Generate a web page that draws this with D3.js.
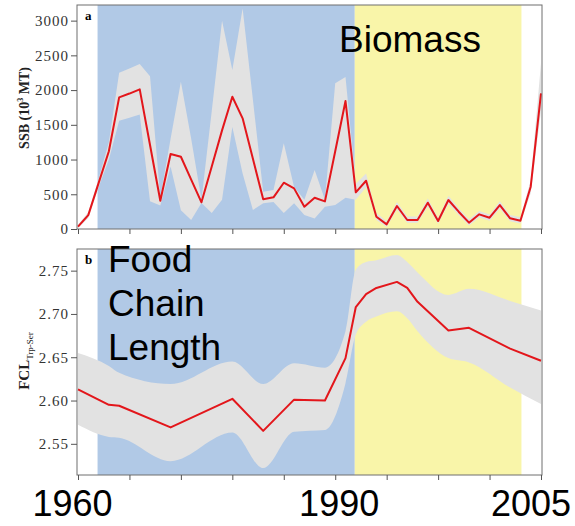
<!DOCTYPE html>
<html>
<head>
<meta charset="utf-8">
<script src="https://cdn.jsdelivr.net/npm/d3@7"></script>
<style>
  body { margin: 0; background: #fff; }
  svg { display: block; }
  .tick text { font-family: "Liberation Serif", serif; font-size: 15px; letter-spacing: 1px; fill: #333; }
  .tick line { stroke: #555; }
</style>
</head>
<body>
<svg width="575" height="526"></svg>
<script>
// ---- data ----
var ssbYears = d3.range(1960, 2006);
var ssb = [33, 200, 660, 1120, 1895, 1950, 2010, 1210, 407, 1080,
           1040, 710, 384, 900, 1420, 1904, 1593, 1010, 427, 456,
           666, 585, 321, 450, 398, 1120, 1842, 528, 695, 177,
           67, 331, 130, 130, 379, 115, 417, 249, 91, 211,
           163, 345, 154, 120, 609, 1953];
var ssbHi = [60, 240, 720, 1250, 2250, 2310, 2375, 2200, 450, 1300,
             2120, 1300, 420, 1700, 3000, 2290, 3175, 1860, 535, 560,
             1235, 605, 420, 850, 420, 2100, 2190, 650, 800, 230,
             110, 390, 180, 180, 440, 160, 480, 300, 140, 260,
             210, 400, 200, 170, 700, 2390];
var ssbLo = [10, 160, 600, 1000, 1560, 1600, 1650, 400, 340, 900,
             270, 130, 375, 230, 420, 1470, 800, 275, 370, 390,
             230, 370, 200, 150, 320, 345, 450, 420, 600, 130,
             30, 280, 90, 90, 320, 75, 360, 200, 50, 165,
             120, 290, 110, 80, 520, 1700];

var fclYears = [1960, 1963, 1964, 1969, 1975, 1978, 1981, 1984, 1986, 1987,
                1988, 1989, 1991, 1992, 1993, 1996, 1998, 2002, 2005];
var fcl   = [2.613, 2.595, 2.594, 2.569, 2.602, 2.565, 2.601, 2.600, 2.649, 2.708,
             2.723, 2.730, 2.737, 2.730, 2.714, 2.681, 2.684, 2.660, 2.646];
var fclHi = [2.655, 2.640, 2.632, 2.619, 2.645, 2.619, 2.643, 2.638, 2.680, 2.751,
             2.760, 2.762, 2.768, 2.760, 2.748, 2.722, 2.729, 2.715, 2.704];
var fclLo = [2.572, 2.558, 2.557, 2.530, 2.563, 2.522, 2.564, 2.566, 2.620, 2.676,
             2.691, 2.697, 2.703, 2.695, 2.680, 2.649, 2.644, 2.615, 2.596];

var regimeFrom = [1961.9, 1986.9];
var regimeTo   = [1986.9, 2003.1];
var xTicks = d3.range(1960, 2006, 5);
var ssbTicks = [0, 500, 1000, 1500, 2000, 2500, 3000];
var fclTicks = [2.55, 2.60, 2.65, 2.70, 2.75];
var bigYears = ["1960", "1990", "2005"];

// ---- layout ----
var svg = d3.select("svg");
var left = 77, right = 542;
var regimeColor = ["#b1c9e6", "#f9f5a9"];

var x = d3.scaleLinear().domain([1960, 2005]).range([78, 541]);

function panel(top, bottom, yDomain, yTicks, fmt, years, mid, hi, lo, letter, curve) {
  var y = d3.scaleLinear().domain(yDomain).range([bottom, top]);
  var g = svg.append("g");
  var id = "clip" + letter;
  g.append("clipPath").attr("id", id).append("rect")
    .attr("x", left).attr("y", top).attr("width", right - left).attr("height", bottom - top);

  var body = g.append("g").attr("clip-path", "url(#" + id + ")");
  body.selectAll("rect.regime").data(regimeFrom).enter().append("rect")
    .attr("class", "regime")
    .attr("x", function(d) { return x(d); })
    .attr("width", function(d, i) { return x(regimeTo[i]) - x(d); })
    .attr("y", top).attr("height", bottom - top)
    .attr("fill", function(d, i) { return regimeColor[i]; });

  var pts = years.map(function(yr, i) { return { yr: yr, m: mid[i], h: hi[i], l: lo[i] }; });
  body.append("path").datum(pts)
    .attr("fill", "#e2e2e2")
    .attr("d", d3.area().curve(curve)
      .x(function(d) { return x(d.yr); })
      .y0(function(d) { return y(d.l); })
      .y1(function(d) { return y(d.h); }));
  body.append("path").datum(pts)
    .attr("fill", "none").attr("stroke", "#e3161b").attr("stroke-width", 2)
    .attr("stroke-linejoin", "round")
    .attr("d", d3.line()
      .x(function(d) { return x(d.yr); })
      .y(function(d) { return y(d.m); }));

  g.append("rect").attr("x", left).attr("y", top)
    .attr("width", right - left).attr("height", bottom - top)
    .attr("fill", "none").attr("stroke", "#6e6e6e");

  var ya = g.append("g").attr("transform", "translate(" + left + ",0)")
    .call(d3.axisLeft(y).tickValues(yTicks).tickFormat(fmt).tickSize(6).tickPadding(2));
  ya.select(".domain").remove();

  var xa = g.append("g").attr("transform", "translate(0," + bottom + ")")
    .call(d3.axisBottom(x).tickValues(xTicks).tickFormat("").tickSize(5));
  xa.select(".domain").remove();

  g.append("text").attr("x", 85).attr("y", top + 15)
    .attr("font-family", "Liberation Serif, serif").attr("font-weight", "bold")
    .attr("font-size", 13).text(letter);
  return y;
}

panel(5, 229, [0, 3225], ssbTicks, d3.format("d"), ssbYears, ssb, ssbHi, ssbLo, "a", d3.curveLinear);
panel(249, 475, [2.514, 2.775], fclTicks, d3.format(".2f"), fclYears, fcl, fclHi, fclLo, "b", d3.curveMonotoneX);

// y axis titles
var t1 = svg.append("text")
  .attr("transform", "translate(29,108) rotate(-90)")
  .attr("text-anchor", "middle")
  .attr("font-family", "Liberation Serif, serif").attr("font-weight", "bold")
  .attr("font-size", 14).attr("fill", "#222");
t1.append("tspan").text("SSB (10");
t1.append("tspan").attr("font-size", 8).attr("dy", -6).text("3");
t1.append("tspan").attr("dy", 6).text(" MT)");

var t2 = svg.append("text")
  .attr("transform", "translate(29,361) rotate(-90)")
  .attr("text-anchor", "middle")
  .attr("font-family", "Liberation Serif, serif").attr("font-weight", "bold")
  .attr("font-size", 15).attr("fill", "#222");
t2.append("tspan").text("FCL");
t2.append("tspan").attr("font-size", 9).attr("font-weight", "normal").attr("dy", 4).text("Trp-Ser");

// big overlay annotations
var big = "Liberation Sans, Arial, sans-serif";
svg.append("text").attr("x", 339).attr("y", 52)
  .attr("font-family", big).attr("font-size", 37).text("Biomass");

svg.append("text").attr("font-family", big).attr("font-size", 37)
  .selectAll("tspan").data(["Food", "Chain", "Length"]).enter().append("tspan")
  .attr("x", 108).attr("y", function(d, i) { return 272 + i * 44; })
  .text(function(d) { return d; });

var bigDx = [-5.5, -47.5, -10];
svg.selectAll("text.year").data(bigYears).enter().append("text")
  .attr("class", "year")
  .attr("x", function(d, i) { return x(+d) + bigDx[i]; })
  .attr("y", 516)
  .attr("text-anchor", "middle")
  .attr("font-family", big).attr("font-size", 36)
  .text(function(d) { return d; });
</script>
</body>
</html>
